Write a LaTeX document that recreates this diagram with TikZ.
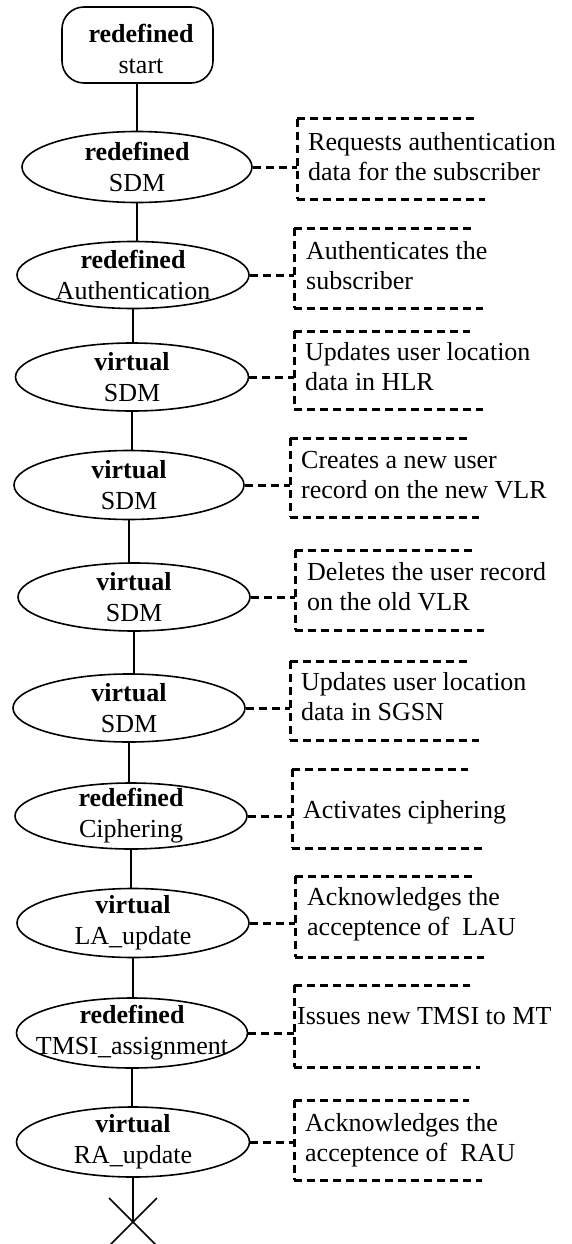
\documentclass[tikz,border=0pt]{standalone}
\usepackage{fontspec}
\setmainfont{Liberation Serif}
\usetikzlibrary{shapes.geometric}
\tikzset{
  ell/.style={draw, ellipse, line width=1.6pt, inner sep=0pt},
  elltext/.style={align=center, inner sep=0pt, font=\fontsize{26pt}{31pt}\selectfont},
  notetext/.style={align=left, inner sep=0pt, anchor=west, font=\fontsize{26pt}{30pt}\selectfont},
  dsh/.style={line width=3pt, dash pattern=on 8pt off 5pt},
  conn/.style={line width=1.5pt}
}
% #1 name, #2 xl, #3 yt, #4 yb, #5 top right, #6 bottom right, #7 text x, #8 text y, #9 text
\newcommand\mynote[9]{%
  \draw[dsh] (#2,#3) -- (#5,#3);
  \draw[dsh] (#2,#3) -- (#2,#4);
  \draw[dsh] (#2,#4) -- (#6,#4);
  \coordinate (#1) at (#2,#3);
  \node[notetext] (#1t) at (#7,#8) {#9};
}
\begin{document}
\begin{tikzpicture}[x=1pt,y=-1pt]
\useasboundingbox (0,0) rectangle (572,1244);

% start
\node[draw, rounded corners=22pt, line width=1.6pt, minimum width=151pt, minimum height=76pt, inner sep=0pt] (s) at (137.5,45) {};
\node[elltext] (st) at (141,49) {\textbf{redefined}\\start};

% ellipses
\node[ell, minimum width=230pt, minimum height=71pt] (e1) at (137,167) {};
\node[elltext] (t1) at (e1) {\textbf{redefined}\\SDM};
\node[ell, minimum width=232pt, minimum height=67pt] (e2) at (133,275) {};
\node[elltext] (t2) at (e2) {\textbf{redefined}\\Authentication};
\node[ell, minimum width=233pt, minimum height=68pt] (e3) at (132,377) {};
\node[elltext] (t3) at (e3) {\textbf{virtual}\\SDM};
\node[ell, minimum width=230pt, minimum height=69pt] (e4) at (129,485) {};
\node[elltext] (t4) at (e4) {\textbf{virtual}\\SDM};
\node[ell, minimum width=232pt, minimum height=68pt] (e5) at (134,597) {};
\node[elltext] (t5) at (e5) {\textbf{virtual}\\SDM};
\node[ell, minimum width=232pt, minimum height=68pt] (e6) at (129,708) {};
\node[elltext] (t6) at (e6) {\textbf{virtual}\\SDM};
\node[ell, minimum width=232pt, minimum height=66pt] (e7) at (131,816) {};
\node[elltext] (t7) at (e7) {\textbf{redefined}\\Ciphering};
\node[ell, minimum width=232pt, minimum height=69pt] (e8) at (133,923) {};
\node[elltext] (t8) at (e8) {\textbf{virtual}\\LA\_update};
\node[ell, minimum width=231pt, minimum height=70pt] (e9) at (132,1033) {};
\node[elltext] (t9) at (e9) {\textbf{redefined}\\TMSI\_assignment};
\node[ell, minimum width=233pt, minimum height=70pt] (e10) at (133,1142) {};
\node[elltext] (t10) at (e10) {\textbf{virtual}\\RA\_update};

% vertical connectors
\draw[conn] (s.south -| e1) -- (e1.north);
\draw[conn] (e1.south) -- (e1.south |- e2.north);
\draw[conn] (e2.south) -- (e2.south |- e3.north);
\draw[conn] (e3.south) -- (e3.south |- e4.north);
\draw[conn] (e4.south) -- (e4.south |- e5.north);
\draw[conn] (e5.south) -- (e5.south |- e6.north);
\draw[conn] (e6.south) -- (e6.south |- e7.north);
\draw[conn] (e7.south) -- (e7.south |- e8.north);
\draw[conn] (e8.south) -- (e8.south |- e9.north);
\draw[conn] (e9.south) -- (e9.south |- e10.north);

% end cross
\coordinate (xc) at (133,1222);
\draw[conn] (e10.south) -- (xc);
\draw[line width=1.6pt] (xc) +(-24,-24) -- +(24,24);
\draw[line width=1.6pt] (xc) +(24,-24) -- +(-24,24);

% notes
\mynote{n1}{297}{119}{199}{475}{485}{308}{157}{Requests authentication\\data for the subscriber}
\mynote{n2}{294}{228}{308}{472}{483}{306}{266}{Authenticates the\\subscriber}
\mynote{n3}{294}{331}{409}{470}{483}{305}{367}{Updates user location\\data in HLR}
\mynote{n4}{290}{438}{517}{467}{479}{301}{475}{Creates a new user\\record on the new VLR}
\mynote{n5}{295}{550}{630}{473}{484}{307}{587}{Deletes the user record\\on the old VLR}
\mynote{n6}{290}{661}{740}{467}{479}{301}{697}{Updates user location\\data in SGSN}
\mynote{n7}{292}{769}{848}{468}{482}{303}{812}{Activates ciphering}
\mynote{n8}{295}{876}{957}{472}{484}{307}{914}{Acknowledges the\\acceptence of\ \ LAU}
\mynote{n9}{294}{985}{1067}{470}{480}{297}{1016}{Issues new TMSI to MT}
\mynote{n10}{294}{1100}{1180}{469}{482}{305}{1140}{Acknowledges the\\acceptence of\ \ RAU}

% dashed connectors
\draw[dsh] (e1.east) -- (e1.east -| n1);
\draw[dsh] (e2.east) -- (e2.east -| n2);
\draw[dsh] (e3.east) -- (e3.east -| n3);
\draw[dsh] (e4.east) -- (e4.east -| n4);
\draw[dsh] (e5.east) -- (e5.east -| n5);
\draw[dsh] (e6.east) -- (e6.east -| n6);
\draw[dsh] (e7.east) -- (e7.east -| n7);
\draw[dsh] (e8.east) -- (e8.east -| n8);
\draw[dsh] (e9.east) -- (e9.east -| n9);
\draw[dsh] (e10.east) -- (e10.east -| n10);
\end{tikzpicture}
\end{document}
